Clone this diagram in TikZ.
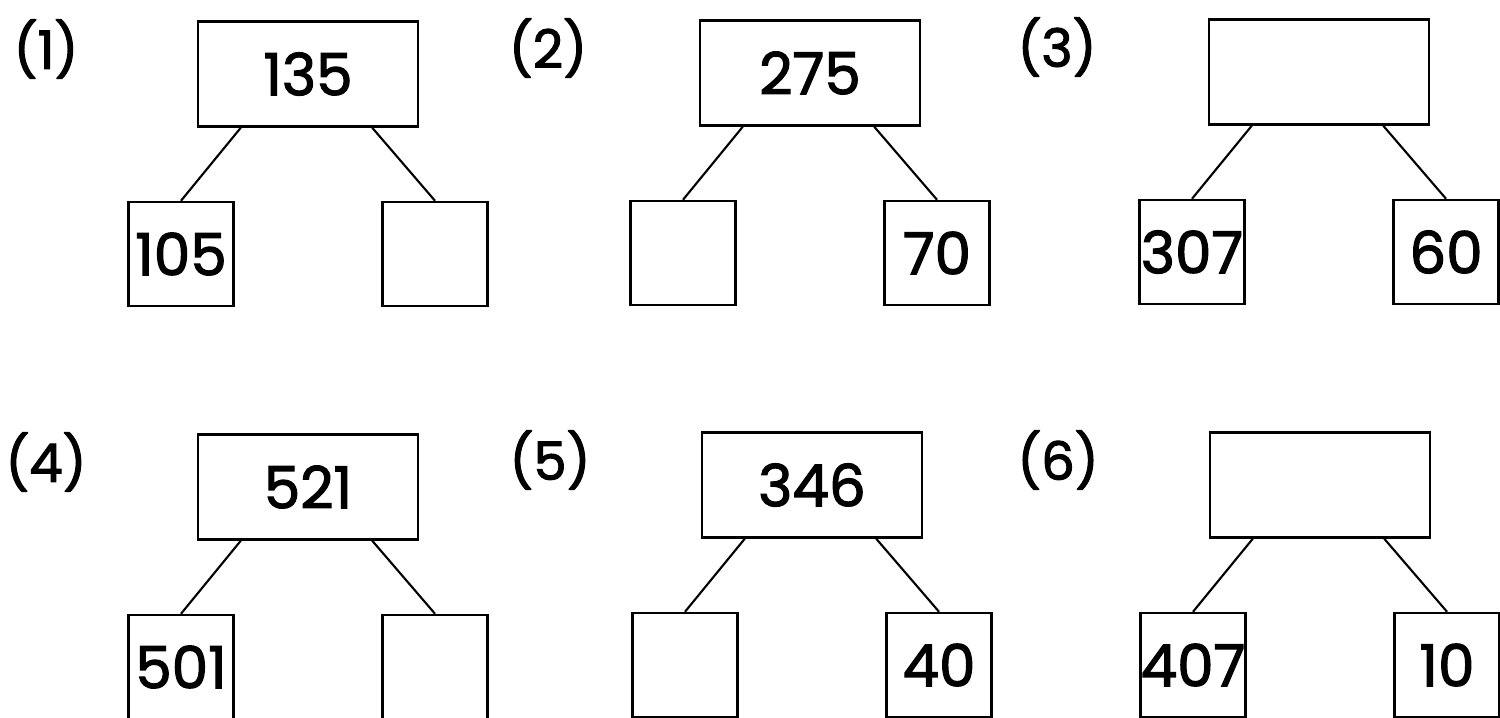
\documentclass[tikz,border=0pt]{standalone}
\usepackage{fontspec}
\setmainfont{Poppins}
\newfontfamily\bondfont{Poppins}[FakeBold=2]
\tikzstyle{sumbox} = [draw, line width=0.7pt, minimum width=2.2cm, minimum height=1.05cm, inner sep=0pt, font=\bondfont\fontsize{16.5}{19}\selectfont]
\tikzstyle{partbox} = [draw, line width=0.7pt, minimum width=1.05cm, minimum height=1.04cm, inner sep=0pt, font=\bondfont\fontsize{16.5}{19}\selectfont]
\tikzstyle{bondnum} = [inner sep=0pt, font=\bondfont\fontsize{15}{18}\selectfont]
\tikzstyle{bondline} = [line width=0.6pt]
\begin{document}
\begin{tikzpicture}[x=0.01cm, y=-0.01cm]
	\useasboundingbox (0,0) rectangle (1500,717);
	% number bonds: number / x / y / whole / left part / right part
	\foreach \n/\x/\y/\w/\l/\r in {1/308/74/135/105/, 2/810/73/275//70, 3/1319/72//307/60,
		4/308/487/521/501/, 5/812/485/346//40, 6/1320/485//407/10}{
		\node[sumbox] (top\n) at (\x,\y) {\w};
		\node[bondnum] (num\n) at (\x-262,\y-25) {(\n)};
		\node[partbox] (left\n) at (\x-127,\y+180) {\l};
		\node[partbox] (right\n) at (\x+127,\y+180) {\r};
		\draw[bondline] ([xshift=0.44cm]top\n.south west) -- (left\n.north);
		\draw[bondline] ([xshift=-0.47cm]top\n.south east) -- (right\n.north);
	}
\end{tikzpicture}
\end{document}
